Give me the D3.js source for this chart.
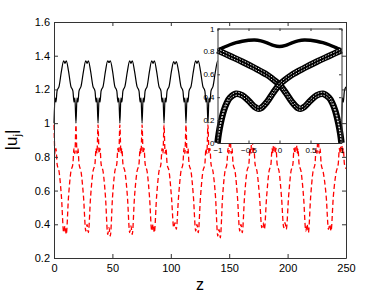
<!DOCTYPE html>
<html>
<head>
<meta charset="utf-8">
<script src="https://cdn.jsdelivr.net/npm/d3@7"></script>
<style>
  body { margin: 0; background: #fff; }
  svg { display: block; font-family: "Liberation Sans", Arial, sans-serif; }
  .axis text { fill: #000; }
  .axis path, .axis line { stroke: #333; }
</style>
</head>
<body>
<svg width="382" height="296"></svg>
<script>
// main plot: |u_1| (black) and |u_2| (red dashed) against z
const z = [
  0, 0.9, 1.7, 2.6, 4.4, 6.4, 8.3, 9.4, 10.5, 12.4, 14.4, 16.2, 17.1, 17.9,
  18.8, 19.7, 20.5, 21.4, 23.2, 25.3, 27.2, 28.3, 29.4, 31.3, 33.3, 35.1, 36.0, 36.8,
  37.7, 38.6, 39.4, 40.3, 42.1, 44.1, 46.0, 47.1, 48.2, 50.1, 52.0, 53.8, 54.7, 55.5,
  56.4, 57.3, 58.1, 59.0, 60.8, 62.9, 64.8, 65.9, 67.0, 68.9, 71.0, 72.8, 73.7, 74.5,
  75.4, 76.3, 77.1, 78.0, 79.8, 81.8, 83.7, 84.8, 85.9, 87.8, 89.8, 91.6, 92.5, 93.3,
  94.2, 95.1, 95.9, 96.8, 98.6, 100.6, 102.5, 103.6, 104.7, 106.6, 108.6, 110.4, 111.3, 112.1,
  113.0, 113.9, 114.7, 115.6, 117.4, 119.4, 121.3, 122.4, 123.5, 125.4, 127.4, 129.2, 130.1, 130.9,
  131.8, 132.7, 133.5, 134.4, 136.2, 138.3, 140.2, 141.3, 142.4, 144.3, 146.3, 148.1, 149.0, 149.8,
  150.7, 151.6, 152.4, 153.3, 155.1, 157.1, 159.0, 160.1, 161.2, 163.1, 165.1, 166.9, 167.8, 168.6,
  169.5, 170.4, 171.2, 172.1, 173.9, 176.0, 177.9, 179.0, 180.1, 182.0, 184.0, 185.8, 186.7, 187.5,
  188.4, 189.3, 190.1, 191.0, 192.8, 194.8, 196.7, 197.8, 198.9, 200.8, 202.8, 204.6, 205.5, 206.3,
  207.2, 208.1, 208.9, 209.8, 211.6, 213.7, 215.6, 216.7, 217.8, 219.7, 221.7, 223.5, 224.4, 225.2,
  226.1, 227.0, 227.8, 228.7, 230.5, 233.1, 235.0, 236.1, 237.2, 239.1, 241.6, 243.4, 244.3, 245.1,
  246.0, 246.9, 247.7, 248.6, 250.0
];
const u1 = [
  1.00, 1.15, 1.125, 1.19, 1.22, 1.31, 1.37, 1.355, 1.37, 1.31, 1.22, 1.19, 1.125, 1.15,
  1.00, 1.15, 1.125, 1.19, 1.22, 1.31, 1.37, 1.355, 1.37, 1.31, 1.22, 1.19, 1.125, 1.15,
  1.00, 1.15, 1.125, 1.19, 1.22, 1.31, 1.37, 1.36, 1.37, 1.31, 1.22, 1.19, 1.125, 1.15,
  1.00, 1.15, 1.125, 1.19, 1.22, 1.31, 1.37, 1.355, 1.37, 1.31, 1.22, 1.19, 1.125, 1.15,
  1.00, 1.15, 1.125, 1.19, 1.22, 1.31, 1.37, 1.355, 1.37, 1.31, 1.22, 1.19, 1.125, 1.15,
  1.00, 1.15, 1.125, 1.19, 1.22, 1.31, 1.365, 1.35, 1.365, 1.31, 1.22, 1.19, 1.125, 1.15,
  1.00, 1.15, 1.125, 1.19, 1.22, 1.31, 1.37, 1.355, 1.37, 1.31, 1.22, 1.19, 1.125, 1.15,
  1.00, 1.15, 1.125, 1.19, 1.22, 1.31, 1.37, 1.36, 1.37, 1.31, 1.22, 1.19, 1.125, 1.15,
  1.00, 1.15, 1.125, 1.19, 1.22, 1.31, 1.37, 1.355, 1.37, 1.31, 1.22, 1.19, 1.125, 1.15,
  1.00, 1.15, 1.125, 1.19, 1.22, 1.31, 1.365, 1.35, 1.365, 1.31, 1.22, 1.19, 1.125, 1.15,
  1.00, 1.15, 1.125, 1.19, 1.22, 1.31, 1.365, 1.35, 1.365, 1.31, 1.22, 1.19, 1.125, 1.15,
  1.00, 1.15, 1.125, 1.19, 1.22, 1.31, 1.37, 1.355, 1.37, 1.31, 1.22, 1.19, 1.125, 1.15,
  1.00, 1.15, 1.125, 1.19, 1.22, 1.31, 1.37, 1.355, 1.37, 1.31, 1.22, 1.19, 1.125, 1.15,
  1.00, 1.15, 1.125, 1.19, 1.215
];
const u2 = [
  0.99, 0.82, 0.85, 0.76, 0.71, 0.56, 0.35, 0.39, 0.34, 0.56, 0.71, 0.76, 0.85, 0.82,
  0.99, 0.82, 0.85, 0.76, 0.71, 0.56, 0.36, 0.40, 0.35, 0.56, 0.71, 0.76, 0.85, 0.82,
  0.99, 0.82, 0.85, 0.76, 0.71, 0.56, 0.34, 0.38, 0.33, 0.56, 0.71, 0.76, 0.85, 0.82,
  0.99, 0.82, 0.85, 0.76, 0.71, 0.56, 0.35, 0.39, 0.34, 0.56, 0.71, 0.76, 0.85, 0.82,
  0.99, 0.82, 0.85, 0.76, 0.71, 0.56, 0.36, 0.40, 0.35, 0.56, 0.71, 0.76, 0.85, 0.82,
  0.99, 0.82, 0.85, 0.76, 0.71, 0.56, 0.38, 0.41, 0.37, 0.56, 0.71, 0.76, 0.85, 0.82,
  0.99, 0.82, 0.85, 0.76, 0.71, 0.56, 0.36, 0.40, 0.35, 0.56, 0.71, 0.76, 0.85, 0.82,
  0.99, 0.82, 0.85, 0.76, 0.71, 0.56, 0.33, 0.37, 0.32, 0.56, 0.71, 0.76, 0.85, 0.82,
  0.99, 0.82, 0.85, 0.76, 0.71, 0.56, 0.36, 0.40, 0.35, 0.56, 0.71, 0.76, 0.85, 0.82,
  0.99, 0.82, 0.85, 0.76, 0.71, 0.56, 0.38, 0.41, 0.37, 0.56, 0.71, 0.76, 0.85, 0.82,
  0.99, 0.82, 0.85, 0.76, 0.71, 0.56, 0.38, 0.41, 0.37, 0.56, 0.71, 0.76, 0.85, 0.82,
  0.99, 0.82, 0.85, 0.76, 0.71, 0.56, 0.36, 0.40, 0.35, 0.56, 0.71, 0.76, 0.85, 0.82,
  0.99, 0.82, 0.85, 0.76, 0.71, 0.56, 0.37, 0.40, 0.36, 0.56, 0.71, 0.76, 0.85, 0.82,
  0.99, 0.82, 0.85, 0.76, 0.73
];
const xTicks = [0, 50, 100, 150, 200, 250];
const yTicks = [0.2, 0.4, 0.6, 0.8, 1, 1.2, 1.4, 1.6];

// inset curves
const topX = [-1, -0.9, -0.8, -0.7, -0.6, -0.5, -0.4, -0.3, -0.2, -0.1, 0, 0.1, 0.2, 0.3, 0.4, 0.5, 0.6, 0.7, 0.8, 0.9, 1];
const topY = [0.81, 0.835, 0.858, 0.876, 0.889, 0.897, 0.9, 0.892, 0.875, 0.853, 0.843, 0.853, 0.875, 0.892, 0.9, 0.897, 0.889, 0.876, 0.858, 0.835, 0.81];
const armAX = [-1, -0.8, -0.6, -0.4, -0.2, -0.1, 0, 0.1, 0.2, 0.3, 0.35, 0.4, 0.5, 0.6, 0.7, 0.8, 0.85, 0.9, 0.95, 0.98, 1];
const armAY = [0.81, 0.76, 0.71, 0.655, 0.595, 0.555, 0.51, 0.44, 0.36, 0.305, 0.30, 0.315, 0.37, 0.415, 0.43, 0.395, 0.35, 0.28, 0.17, 0.08, 0.0];
const armBX = [-1, -0.98, -0.95, -0.9, -0.85, -0.8, -0.7, -0.6, -0.5, -0.4, -0.35, -0.3, -0.2, -0.1, 0, 0.2, 0.4, 0.6, 0.8, 1];
const armBY = [0.0, 0.08, 0.17, 0.28, 0.35, 0.395, 0.43, 0.415, 0.37, 0.315, 0.30, 0.305, 0.36, 0.44, 0.51, 0.595, 0.655, 0.71, 0.76, 0.81];
const ixTicks = [-1, -0.5, 0, 0.5, 1];
const iyTicks = [0, 0.2, 0.4, 0.6, 0.8, 1];

let svg = d3.select("svg");

let x = d3.scaleLinear().domain([0, 250]).range([54, 346]);
let y = d3.scaleLinear().domain([0.2, 1.6]).range([258, 22]);

// curves
let line1 = d3.line()
    .x((d, i) => x(z[i]))
    .y(d => y(d))
    .curve(d3.curveMonotoneX);

svg.append("path")
    .attr("d", line1(u2))
    .attr("fill", "none")
    .attr("stroke", "#f00")
    .attr("stroke-width", 1.3)
    .attr("stroke-dasharray", "5,3");

svg.append("path")
    .attr("d", line1(u1))
    .attr("fill", "none")
    .attr("stroke", "#000")
    .attr("stroke-width", 1.2);

// axes, matlab style ticks pointing inwards
svg.append("g").attr("class", "axis")
    .attr("transform", "translate(0,258)")
    .call(d3.axisBottom(x).tickValues(xTicks).tickSize(-4).tickSizeOuter(0).tickPadding(6))
    .attr("font-size", 11).attr("font-family", null);
svg.append("g").attr("class", "axis")
    .attr("transform", "translate(0,22)")
    .call(d3.axisTop(x).tickValues(xTicks).tickSize(-4).tickSizeOuter(0).tickFormat(""));
svg.append("g").attr("class", "axis")
    .attr("transform", "translate(54,0)")
    .call(d3.axisLeft(y).tickValues(yTicks).tickSize(-4).tickSizeOuter(0).tickPadding(4).tickFormat(d3.format("")))
    .attr("font-size", 11).attr("font-family", null);
svg.append("g").attr("class", "axis")
    .attr("transform", "translate(346,0)")
    .call(d3.axisRight(y).tickValues(yTicks).tickSize(-4).tickSizeOuter(0).tickFormat(""));

svg.append("text")
    .attr("x", 200).attr("y", 290)
    .attr("text-anchor", "middle")
    .attr("font-size", 16)
    .text("z");

let yl = svg.append("text")
    .attr("transform", "translate(16.5,140) rotate(-90)")
    .attr("text-anchor", "middle")
    .attr("font-size", 17);
yl.append("tspan").text("|u");
yl.append("tspan").attr("font-size", 11).attr("dy", 4).text("j");
yl.append("tspan").attr("dy", -4).text("|");

/*************************************************************************/
// inset
let ix = d3.scaleLinear().domain([-1, 1]).range([217.5, 341.5]);
let iy = d3.scaleLinear().domain([0, 1]).range([143, 28.5]);

svg.append("rect")
    .attr("x", 217.5).attr("y", 28.5)
    .attr("width", 124).attr("height", 114.5)
    .attr("fill", "#fff");

let g = svg.append("g");

function band(xs, ys, w) {
  let ln = d3.line()
      .x((d, i) => ix(xs[i]))
      .y(d => iy(d))
      .curve(d3.curveCatmullRom);
  g.append("path").attr("d", ln(ys))
      .attr("fill", "none").attr("stroke", "#000")
      .attr("stroke-width", w).attr("stroke-linejoin", "round");
  if (w > 4) {
    [-1.5, 1.5].forEach(off => {
      g.append("path").attr("d", ln(ys))
          .attr("transform", "translate(0," + off + ")")
          .attr("fill", "none").attr("stroke", "#fff")
          .attr("stroke-width", 0.9)
          .attr("stroke-dasharray", "1.6,1.4");
    });
  }
}

band(topX, topY, 3.4);
band(armAX, armAY, 6.5);
band(armBX, armBY, 6.5);

svg.append("g").attr("class", "axis")
    .attr("transform", "translate(0,143)")
    .call(d3.axisBottom(ix).tickValues(ixTicks).tickSize(-2.5).tickSizeOuter(0).tickPadding(4).tickFormat(d3.format("")))
    .attr("font-size", 8).attr("font-family", null);
svg.append("g").attr("class", "axis")
    .attr("transform", "translate(0,28.5)")
    .call(d3.axisTop(ix).tickValues(ixTicks).tickSize(-2.5).tickSizeOuter(0).tickFormat(""));
svg.append("g").attr("class", "axis")
    .attr("transform", "translate(217.5,0)")
    .call(d3.axisLeft(iy).tickValues(iyTicks).tickSize(-2.5).tickSizeOuter(0).tickPadding(3).tickFormat(d3.format("")))
    .attr("font-size", 8).attr("font-family", null);
svg.append("g").attr("class", "axis")
    .attr("transform", "translate(341.5,0)")
    .call(d3.axisRight(iy).tickValues(iyTicks).tickSize(-2.5).tickSizeOuter(0).tickFormat(""));
</script>
</body>
</html>
